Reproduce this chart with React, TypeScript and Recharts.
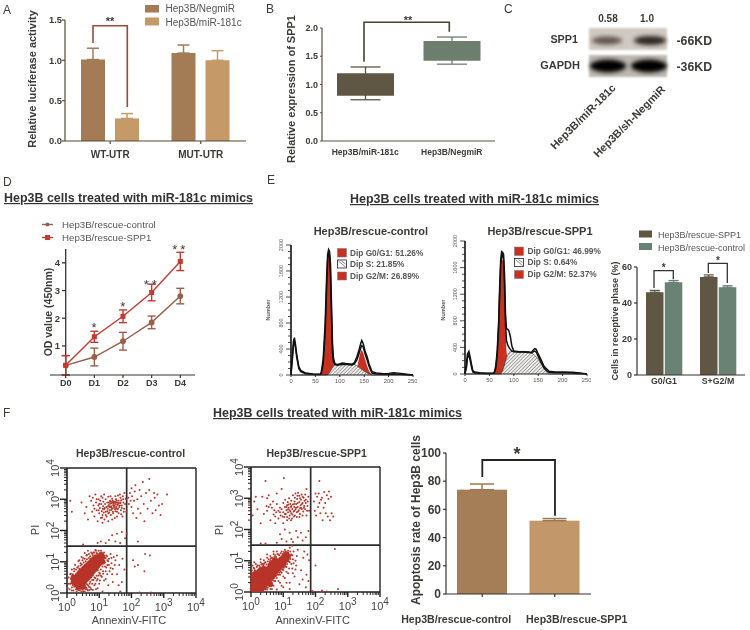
import React from 'react';
import {
  Area, Bar, BarChart, ComposedChart, ErrorBar, Line, LineChart, ReferenceLine,
  Scatter, ScatterChart, XAxis, YAxis,
} from 'recharts';

const FONT = '"Liberation Sans", Arial, sans-serif';
const INK = '#3a3a36';

// A: luciferase
const lucCats = ['WT-UTR', 'MUT-UTR'];
const lucNeg = [1.01, 1.09];
const lucNegErr = [0.14, 0.1];
const lucMir = [0.28, 1.0];
const lucMirErr = [0.06, 0.12];

// B: SPP1 box plot
const boxCats = ['Hep3B/miR-181c', 'Hep3B/NegmiR'];
const boxQ1 = [0.8, 1.42];
const boxQ3 = [1.2, 1.77];
const boxLow = [0.73, 1.36];
const boxHigh = [1.31, 1.84];

// D: OD curves
const days = ['D0', 'D1', 'D2', 'D3', 'D4'];
const odCtrl = [0.3, 0.6, 1.17, 1.85, 2.8];
const odCtrlErr = [0.35, 0.32, 0.32, 0.23, 0.28];
const odSpp1 = [0.3, 1.33, 2.07, 2.93, 4.05];
const odSpp1Err = [0.35, 0.2, 0.23, 0.3, 0.33];

// E: cell cycle histograms
const ch1 = [0, 3, 5, 7, 9, 12, 16, 20, 30, 45, 60, 62, 66, 70, 73, 75, 77, 79, 81, 83, 85, 87, 90, 95, 105, 115, 125, 130, 135, 140, 143, 145, 148, 152, 156, 160, 166, 175, 190, 200, 210, 225, 237, 250];
const raw1 = [30, 320, 520, 574, 480, 300, 130, 70, 30, 15, 12, 40, 250, 800, 1500, 1850, 1930, 1900, 1700, 1100, 500, 260, 175, 160, 185, 175, 165, 190, 280, 400, 490, 530, 480, 360, 280, 170, 50, 30, 20, 25, 35, 25, 12, 0];
const fit1 = [0, 250, 450, 520, 430, 260, 100, 50, 20, 10, 8, 20, 180, 650, 1350, 1750, 1880, 1850, 1500, 900, 350, 200, 160, 150, 165, 160, 155, 170, 230, 340, 420, 450, 430, 320, 230, 130, 30, 15, 10, 10, 15, 10, 5, 0];
const red1 = [0, 0, 0, 0, 0, 0, 0, 0, 0, 0, 0, 0, 200, 700, 1350, 1700, 1850, 1800, 1500, 950, 450, 200, 60, 0, 0, 0, 0, 0, 100, 280, 360, 390, 340, 240, 140, 60, 0, 0, 0, 0, 0, 0, 0, 0];
const hatch1 = [0, 0, 0, 0, 0, 0, 0, 0, 0, 0, 0, 0, 0, 0, 0, 0, 20, 40, 60, 90, 120, 140, 160, 165, 170, 170, 165, 160, 140, 115, 95, 85, 70, 50, 30, 15, 0, 0, 0, 0, 0, 0, 0, 0];

const ch2 = [0, 3, 5, 8, 11, 14, 16, 20, 30, 45, 58, 60, 63, 66, 69, 71, 73, 75, 77, 79, 81, 83, 85, 88, 90, 93, 96, 100, 110, 120, 130, 136, 140, 143, 146, 149, 155, 162, 168, 172, 185, 202, 220, 235, 250];
const raw2 = [10, 150, 300, 340, 240, 120, 50, 30, 20, 12, 10, 25, 120, 350, 800, 1300, 1700, 1840, 1830, 1800, 1500, 900, 680, 670, 650, 560, 420, 345, 335, 335, 330, 325, 360, 380, 370, 320, 230, 115, 70, 40, 30, 30, 25, 15, 0];
const fit2 = [5, 100, 240, 290, 190, 80, 30, 15, 10, 8, 6, 15, 80, 280, 700, 1200, 1600, 1780, 1790, 1720, 1350, 750, 500, 430, 400, 370, 345, 335, 330, 330, 325, 320, 335, 345, 330, 280, 190, 90, 45, 25, 20, 20, 15, 8, 0];
const red2 = [0, 0, 0, 0, 0, 0, 0, 0, 0, 0, 0, 0, 60, 250, 600, 1050, 1500, 1700, 1720, 1650, 1300, 700, 350, 150, 60, 0, 0, 0, 0, 0, 0, 0, 0, 0, 0, 0, 0, 0, 0, 0, 0, 0, 0, 0, 0];
const hatch2 = [0, 0, 0, 0, 0, 0, 0, 0, 0, 0, 0, 0, 0, 0, 0, 0, 0, 20, 50, 90, 140, 190, 240, 290, 320, 340, 340, 340, 340, 340, 335, 320, 300, 280, 260, 230, 170, 80, 25, 0, 0, 0, 0, 0, 0];

const phaseCats = ['G0/G1', 'S+G2/M'];
const phaseSpp1 = [46, 54.5];
const phaseSpp1Err = [1, 1.1];
const phaseCtrl = [51.5, 48.8];
const phaseCtrlErr = [1, 0.8];

// F: apoptosis, positions in log10 decades
const ctrlUpper = [[0.1, 2.95], [0.15, 2.6], [0.45, 2.9], [0.55, 2.55], [0.6, 2.75], [0.65, 2.35], [0.7, 3.1], [0.75, 2.95], [0.78, 2.6], [0.8, 3.05], [0.82, 2.8], [0.85, 2.45], [0.88, 3.15], [0.9, 2.9], [0.92, 2.65], [0.95, 2.3], [0.97, 2.8], [0.98, 3], [1, 2.55], [1.02, 2.72], [1.03, 2.95], [1.05, 2.4], [1.06, 2.85], [1.08, 2.62], [1.1, 3.05], [1.1, 2.5], [1.12, 2.78], [1.13, 2.92], [1.15, 2.68], [1.16, 2.35], [1.18, 2.85], [1.2, 2.6], [1.2, 3], [1.22, 2.75], [1.23, 2.45], [1.25, 2.9], [1.26, 2.7], [1.28, 2.55], [1.28, 3.08], [1.3, 2.82], [1.32, 2.65], [1.33, 2.95], [1.35, 2.75], [1.36, 2.5], [1.38, 2.88], [1.4, 2.7], [1.4, 3.02], [1.42, 2.6], [1.43, 2.82], [1.45, 2.93], [1.46, 2.72], [1.48, 2.4], [1.5, 2.85], [1.5, 2.62], [1.52, 3], [1.53, 2.77], [1.55, 2.9], [1.56, 2.68], [1.58, 2.82], [1.6, 2.95], [1.6, 2.55], [1.62, 2.75], [1.64, 3.15], [1.65, 2.87], [1.67, 2.65], [1.68, 2.97], [1.7, 2.8], [1.72, 2.45], [1.73, 3.1], [1.75, 2.9], [1.77, 2.7], [1.78, 3.2], [1.8, 2.85], [1.82, 3.02], [1.84, 2.6], [1.44, 2.88], [1.34, 2.86], [1.47, 2.8], [1.37, 2.78], [1.56, 2.84], [1.27, 2.78], [1.5, 2.92], [1.41, 2.95], [1.9, 3.05], [1.92, 2.85], [1.95, 3.2], [1.97, 2.95], [2, 3.35], [2, 2.75], [2.02, 3.1], [2.05, 2.55], [2.08, 2.95], [2.1, 3.25], [2.12, 3.45], [2.15, 2.4], [2.18, 3], [2.2, 2.7], [2.25, 3.3], [2.28, 2.55], [2.3, 3.1], [2.35, 3.55], [2.38, 2.85], [2.4, 2.3], [2.45, 3.2], [2.5, 2.7], [2.55, 3.3], [2.55, 3.65], [2.6, 2.95], [2.65, 2.55], [2.7, 3.2], [2.72, 3.05], [2.75, 2.65], [2.8, 3.15], [2.85, 2.8], [2.9, 2.5], [2.95, 2.85], [3.1, 3.15], [0.95, 1.6], [1.05, 1.65], [1.2, 1.6], [1.3, 1.7], [1.4, 1.85], [1.5, 1.65], [1.55, 1.9], [1.65, 1.6], [1.7, 1.95], [1.8, 1.75], [1.85, 1.9], [2.2, 1.65], [0.5, 1.55]];
const ctrlUpperDense = [[1.3, 2.9], [1.36, 2.92], [1.42, 2.9], [1.48, 2.9], [1.54, 2.96], [1.6, 2.88], [1.66, 2.9], [1.32, 2.75], [1.39, 2.72], [1.45, 2.78], [1.52, 2.72], [1.58, 2.7], [1.64, 2.8], [1.7, 2.72], [1.25, 2.62], [1.31, 2.58], [1.37, 2.66], [1.43, 2.55], [1.49, 2.68], [1.55, 2.6], [1.11, 2.7], [1.17, 2.72], [1.14, 2.58], [1.09, 2.42], [1.2, 2.5], [1, 2.85], [1.06, 3.1], [0.92, 3], [0.98, 2.65], [0.85, 2.7], [1.5, 3.1], [1.58, 3.12], [1.66, 3.05], [1.74, 3], [1.35, 3.1], [1.15, 3.15], [1.76, 2.6], [1.68, 2.52], [1.55, 2.45], [1.4, 2.35], [1.28, 2.3], [1.1, 2.25]];
const ctrlCore = [[0.2, 0.35], [0.3, 0.3], [0.3, 0.5], [0.4, 0.25], [0.4, 0.45], [0.4, 0.65], [0.5, 0.35], [0.5, 0.55], [0.5, 0.75], [0.6, 0.45], [0.6, 0.65], [0.6, 0.85], [0.7, 0.55], [0.7, 0.75], [0.7, 0.95], [0.8, 0.7], [0.8, 0.9], [0.8, 1.05], [0.9, 0.8], [0.9, 1], [0.9, 1.15], [1, 0.95], [1, 1.1], [1.05, 1.2], [1.1, 1], [1.1, 1.15], [0.25, 0.42], [0.35, 0.38], [0.35, 0.58], [0.45, 0.3], [0.45, 0.5], [0.45, 0.7], [0.55, 0.4], [0.55, 0.6], [0.55, 0.8], [0.65, 0.5], [0.65, 0.7], [0.65, 0.9], [0.75, 0.62], [0.75, 0.82], [0.75, 1], [0.85, 0.75], [0.85, 0.95], [0.85, 1.1], [0.95, 0.88], [0.95, 1.05], [1.05, 1.05], [0.35, 0.2], [0.5, 0.2], [0.2, 0.5]];
const ctrlLower = [[0.05, 0.5], [0.08, 0.12], [0.1, 0.3], [0.12, 0.45], [0.15, 0.18], [0.18, 0.6], [0.2, 0.08], [0.22, 0.7], [0.25, 0.22], [0.28, 0.75], [0.3, 0.05], [0.33, 0.12], [0.35, 0.85], [0.4, 0.08], [0.42, 0.95], [0.45, 0.15], [0.48, 1.05], [0.5, 0.06], [0.52, 0.2], [0.55, 1.1], [0.58, 0.12], [0.6, 1.2], [0.62, 0.28], [0.65, 0.08], [0.68, 1.25], [0.7, 0.3], [0.72, 0.18], [0.75, 1.3], [0.78, 0.42], [0.8, 0.1], [0.82, 1.3], [0.85, 0.5], [0.88, 0.3], [0.9, 1.35], [0.92, 0.55], [0.95, 0.15], [0.98, 1.35], [1, 0.65], [1.02, 0.4], [1.05, 0.75], [1.08, 1.3], [1.1, 0.05], [1.12, 0.7], [1.15, 1.3], [1.18, 0.85], [1.2, 0.45], [1.22, 1.2], [1.25, 0.9], [1.28, 0.25], [1.3, 1.1], [1.32, 0.7], [1.35, 1.25], [1.38, 0.95], [1.42, 0.35], [1.45, 1.15], [1.5, 1.05], [1.55, 0.6], [1.55, 1.2], [1.6, 0.25], [1.62, 0.9], [1.65, 0.05], [1.7, 0.35], [1.72, 1.1], [1.78, 0.75], [2.2, 0.9], [2.05, 1.05], [2.1, 0.85], [2.42, 1.25], [2.57, 1.2], [2.4, 0.7], [2.25, 0.02], [2.6, 0.02], [0.15, 0.75], [0.25, 0.9], [0.35, 1.02], [0.45, 1.15], [0.55, 1.28], [0.65, 1.35], [0.75, 1.1], [0.85, 1.3], [0.95, 1.25], [1.05, 1.35], [1.15, 1.2], [1.25, 1.05], [1.35, 0.8], [1.25, 0.6], [1.15, 0.4], [1.05, 0.55], [0.95, 0.45], [0.85, 0.25], [0.75, 0.12], [0.65, 0.25], [0.55, 0.05], [0.45, 0.05], [0.35, 0.1], [0.15, 0.08], [0.05, 0.3], [0.02, 0.15], [0.1, 0.6], [0.95, 0.72], [1.1, 0.85], [1.2, 0.7], [1.3, 0.9], [1, 0.3], [0.9, 0.12], [1.4, 0.6], [1.48, 0.9], [0.7, 0.1], [0.6, 0.18]];
const ctrlHalo = [[0.12, 0.62], [0.18, 0.48], [0.22, 0.2], [0.28, 0.6], [0.32, 0.82], [0.38, 0.78], [0.42, 0.88], [0.46, 0.92], [0.52, 0.98], [0.58, 1.02], [0.62, 1.08], [0.68, 1.12], [0.72, 1.18], [0.8, 1.22], [0.92, 1.28], [1.02, 1.28], [1.12, 1.25], [1.2, 1.12], [1.18, 0.98], [1.24, 1.18], [1.28, 1.02], [1.22, 0.82], [1.12, 0.62], [1.08, 0.52], [1.02, 0.62], [0.98, 0.56], [0.92, 0.4], [0.88, 0.48], [0.82, 0.42], [0.78, 0.3], [0.72, 0.36], [0.68, 0.2], [0.62, 0.12], [0.58, 0.3], [0.54, 0.24], [0.48, 0.12], [0.42, 0.14], [0.38, 0.16], [0.28, 0.12], [0.18, 0.25], [0.22, 0.78], [0.38, 1.05], [0.5, 1.12], [0.62, 1.22], [0.78, 1.26], [0.88, 1.38], [1.38, 1.12], [1.42, 0.78]];
const spp1Upper = [[0, 2.6], [0, 2.75], [0, 2.85], [0.05, 2.45], [0.1, 2.9], [0.15, 3.05], [0.2, 2.65], [0.3, 2.2], [0.35, 3.05], [0.4, 2.5], [0.45, 3.55], [0.5, 3], [0.5, 2.6], [0.55, 2.72], [0.55, 3.1], [0.6, 2.3], [0.65, 2.7], [0.7, 2.48], [0.75, 2.2], [0.78, 2.55], [0.8, 3.15], [0.8, 2.82], [0.85, 2.6], [0.85, 2.35], [0.9, 2.7], [0.92, 2.45], [0.95, 3.3], [0.95, 2.65], [1, 2.2], [1, 2.55], [1.02, 3.65], [1, 2.85], [1.03, 2.4], [1.05, 2.72], [1.06, 2.95], [1.08, 2.5], [1.1, 2.62], [1.12, 2.78], [1.12, 2.3], [1.14, 2.88], [1.15, 2.55], [1.17, 2.7], [1.18, 3], [1.2, 2.45], [1.2, 2.62], [1.22, 2.82], [1.24, 2.72], [1.25, 2.52], [1.25, 2.92], [1.27, 2.35], [1.28, 2.66], [1.3, 2.8], [1.3, 3.1], [1.32, 2.58], [1.34, 2.72], [1.35, 2.9], [1.36, 2.45], [1.38, 3.15], [1.38, 2.65], [1.4, 2.82], [1.42, 2.55], [1.43, 2.98], [1.45, 2.72], [1.46, 3.18], [1.48, 2.62], [1.5, 2.88], [1.5, 3.08], [1.52, 2.5], [1.54, 2.78], [1.55, 2.95], [1.57, 3.12], [1.58, 2.66], [1.6, 2.85], [1.62, 2.58], [1.63, 3.02], [1.65, 2.75], [1.66, 2.92], [1.68, 2.65], [1.7, 2.85], [1.72, 3.3], [1.72, 2.45], [1.75, 2.75], [1.78, 3.05], [1.8, 2.6], [1.15, 2.65], [1.25, 2.75], [1.35, 2.6], [1.45, 2.85], [1.55, 2.7], [1.95, 2.9], [1.98, 2.6], [2, 3.15], [2.02, 2.45], [2.05, 3.05], [2.08, 2.72], [2.1, 3.15], [2.12, 3.55], [2.12, 2.85], [2.15, 2.52], [2.17, 2.95], [2.2, 3.02], [2.22, 2.3], [2.25, 2.7], [2.27, 3.2], [2.3, 2.85], [2.32, 2.52], [2.35, 3.1], [2.38, 2.42], [2.4, 2.98], [2.42, 3.22], [2.45, 2.3], [2.48, 3.05], [2.5, 2.52], [2.55, 2.42], [0.8, 1.58], [0.9, 1.85], [0.95, 1.7], [1.05, 2], [1.1, 1.62], [1.2, 1.9], [1.25, 1.7], [1.3, 1.6], [1.4, 1.95], [1.45, 1.75], [1.55, 1.9], [1.6, 1.65], [1.7, 1.75], [1.78, 1.95], [0.3, 1.55], [0.45, 1.55]];
const spp1UpperDense = [[1.1, 2.72], [1.16, 2.8], [1.22, 2.58], [1.28, 2.48], [1.34, 2.82], [1.4, 2.7], [1.46, 2.58], [1.52, 2.68], [1.58, 2.82], [1.64, 2.7], [1.7, 2.95], [1.05, 2.5], [0.98, 2.42], [0.9, 2.55], [1.12, 2.4], [1.18, 2.35], [1.24, 2.3], [1.33, 2.42], [1.42, 2.4], [1.5, 2.4], [1.6, 2.45], [1.36, 3.02], [1.44, 3.08], [1.52, 3], [1.6, 3.05], [1.68, 3.12], [1.74, 2.6], [1.76, 2.9], [0.72, 2.62], [0.6, 2.8], [0.48, 2.75], [0.68, 2.9], [0.75, 2.42]];
const spp1Core = [[0.1, 0.15], [0.1, 0.35], [0.1, 0.55], [0.2, 0.1], [0.2, 0.3], [0.2, 0.5], [0.3, 0.1], [0.3, 0.3], [0.3, 0.5], [0.3, 0.7], [0.4, 0.15], [0.4, 0.35], [0.4, 0.55], [0.4, 0.75], [0.5, 0.3], [0.5, 0.5], [0.5, 0.7], [0.6, 0.25], [0.6, 0.45], [0.6, 0.65], [0.6, 0.85], [0.7, 0.55], [0.7, 0.75], [0.7, 0.95], [0.8, 0.7], [0.8, 0.9], [0.9, 0.8], [0.9, 1], [1, 0.9], [1, 1.1], [1.1, 1.05], [1.15, 1.15], [0.05, 0.1], [0.05, 0.3], [0.05, 0.5], [0.15, 0.2], [0.15, 0.4], [0.15, 0.6], [0.25, 0.2], [0.25, 0.4], [0.25, 0.6], [0.35, 0.2], [0.35, 0.4], [0.35, 0.6], [0.45, 0.25], [0.45, 0.45], [0.45, 0.65], [0.55, 0.35], [0.55, 0.55], [0.55, 0.75], [0.65, 0.5], [0.65, 0.7], [0.65, 0.9], [0.75, 0.65], [0.75, 0.85], [0.75, 1.02], [0.85, 0.75], [0.85, 0.95], [0.95, 0.85], [0.95, 1.05], [1.05, 1], [1.05, 1.15], [1.1, 1.2]];
const spp1Lower = [[0, 0.1], [0, 0.3], [0, 0.55], [0.03, 0.7], [0.05, 0.85], [0.1, 0.75], [0.15, 0.9], [0.2, 0.7], [0.25, 0.85], [0.3, 0.95], [0.35, 0.9], [0.4, 1.02], [0.45, 0.95], [0.5, 1.1], [0.55, 1.05], [0.6, 1.15], [0.65, 1.1], [0.7, 1.22], [0.75, 1.18], [0.8, 1.3], [0.5, 0.08], [0.6, 0.1], [0.7, 0.2], [0.75, 0.35], [0.8, 0.08], [0.8, 0.45], [0.85, 0.55], [0.9, 0.3], [0.95, 0.62], [1, 0.15], [1, 0.7], [1.05, 0.45], [1.1, 0.8], [1.15, 0.6], [1.2, 0.95], [1.2, 0.3], [1.25, 1.2], [1.28, 0.75], [1.3, 1.05], [1.32, 1.3], [1.35, 0.5], [1.4, 0.85], [1.42, 1.15], [1.45, 1.35], [1.5, 0.25], [1.55, 0.7], [1.6, 0.4], [1.62, 1.1], [1.65, 1.3], [1.7, 0.15], [1.72, 0.55], [1.75, 1.2], [1.78, 0.35], [1.8, 1.02], [1.2, 1.42], [1.28, 1.48], [2, 0.85], [2.6, 1.38], [2.7, 0.1], [2.2, 0.05], [2.35, 0.02], [1.9, 0.03], [0.1, 0.95], [0.2, 0.85], [0.3, 1.05], [0.4, 0.9], [0.5, 1.2], [0.6, 1.02], [0.7, 1.3], [0.85, 1.2], [0.95, 1.3], [1.05, 1.35], [1.15, 1.32], [1.22, 1.3], [0.9, 0.55], [1, 0.5], [1.1, 0.65], [1.18, 0.75], [1.25, 0.9], [1.3, 0.6], [1.38, 1], [0.85, 0.35], [0.95, 0.2], [1.1, 0.3], [1.2, 0.1], [0.65, 0.1], [0.72, 0.35]];
const spp1Halo = [[0.02, 0.62], [0.08, 0.78], [0.12, 0.7], [0.18, 0.8], [0.22, 0.68], [0.28, 0.8], [0.32, 0.88], [0.38, 0.84], [0.42, 0.94], [0.48, 0.88], [0.52, 0.98], [0.58, 0.96], [0.62, 1.08], [0.68, 1.06], [0.72, 1.12], [0.78, 1.12], [0.82, 1.22], [0.88, 1.18], [0.92, 1.24], [0.98, 1.22], [1.02, 1.28], [1.08, 1.3], [1.15, 1.26], [1.2, 1.18], [1.22, 1.06], [1.18, 0.98], [1.12, 0.9], [1.08, 0.82], [1.02, 0.78], [0.98, 0.72], [0.92, 0.66], [0.88, 0.62], [0.82, 0.56], [0.78, 0.52], [0.72, 0.45], [0.68, 0.38], [0.62, 0.32], [0.58, 0.2], [0.52, 0.14], [0.45, 0.08], [0.38, 0.06], [0.28, 0.04], [0.18, 0.03], [0.08, 0.02], [1.32, 0.92], [1.38, 0.72], [1.28, 1.18]];

const logTicks = [0, 0.3, 0.48, 0.6, 0.7, 0.78, 0.85, 0.9, 0.95, 1, 1.3, 1.48, 1.6, 1.7, 1.78, 1.85, 1.9, 1.95, 2, 2.3, 2.48, 2.6, 2.7, 2.78, 2.85, 2.9, 2.95, 3, 3.3, 3.48, 3.6, 3.7, 3.78, 3.85, 3.9, 3.95, 4];

// F: rate bars
const rateCats = ['Hep3B/rescue-control', 'Hep3B/rescue-SPP1'];
const rateVals = [74, 52];
const rateErr = [4, 1.5];

const rows = (keys: Record<string, any[]>) => {
  const names = Object.keys(keys);
  return keys[names[0]].map((_, i) => Object.fromEntries(names.map((n) => [n, keys[n][i]])));
};
const upErr = (e: number[]) => e.map((v) => [0, v]);
const pts = (list: number[][]) => list.map(([x, y]) => ({ x, y }));

const lucRows = rows({ cat: lucCats, neg: lucNeg, negErr: upErr(lucNegErr), mir: lucMir, mirErr: upErr(lucMirErr) });
const boxRows = boxCats.map((cat, i) => ({
  cat,
  [`box${i}`]: [boxQ1[i], boxQ3[i]],
  [`whisker${i}`]: [boxQ3[i] - boxLow[i], boxHigh[i] - boxQ3[i]],
}));
const odRows = rows({ day: days, ctrl: odCtrl, ctrlErr: odCtrlErr, spp1: odSpp1, spp1Err: odSpp1Err });
const phaseRows = rows({ cat: phaseCats, spp1: phaseSpp1, spp1Err: upErr(phaseSpp1Err), ctrl: phaseCtrl, ctrlErr: upErr(phaseCtrlErr) });
const rateRows = rows({ cat: rateCats, val: rateVals, err: upErr(rateErr) });
const hist1 = rows({ ch: ch1, raw: raw1, fit: fit1, red: red1, hatch: hatch1 });
const hist2 = rows({ ch: ch2, raw: raw2, fit: fit2, red: red2, hatch: hatch2 });

const Place = ({ left, top, children }: any) => (
  <div style={{ position: 'absolute', left, top }}>{children}</div>
);

const boldTick = (fontSize: number) => ({ fontSize, fontWeight: 700, fill: INK, fontFamily: FONT });

// y axis of panel D sits on D0, so ticks are pushed right from the plot edge
const OdTick = ({ x, y, payload }: any) => (
  <g>
    <line x1={x + 20} x2={x + 23.7} y1={y} y2={y} stroke="#333" strokeWidth={1.3} />
    <text x={x + 18} y={y + 3.5} textAnchor="end" fontSize={9.5} fontWeight={700} fill={INK} fontFamily={FONT}>{payload.value}</text>
  </g>
);

const SquareDot = ({ cx, cy }: any) => <rect x={cx - 2.5} y={cy - 2.5} width={5} height={5} fill="#c8382e" />;

// labels under the rate bars are not centred on them in the source
const RateTick = ({ x, y, payload, index }: any) => (
  <text x={x + (index === 0 ? -26 : 22)} y={y + 24} textAnchor="middle" fontSize={10.6} fontWeight={700} fill={INK} fontFamily={FONT}>{payload.value}</text>
);

function HistChart({ data, height }: { data: any[]; height: number }) {
  const YTick = ({ x, y, payload }: any) => {
    const major = payload.value % 400 === 0;
    return (
      <g>
        <line x1={x + (major ? 3 : 5)} x2={x + 8} y1={y} y2={y} stroke="#222" strokeWidth={0.8} />
        {major && <text transform={`translate(${x},${y}) rotate(-90)`} textAnchor="middle" fontSize={5.5} fill="#555" fontFamily={FONT}>{payload.value}</text>}
      </g>
    );
  };
  return (
    <ComposedChart width={158} height={height + 22} data={data} margin={{ top: 6, right: 4, bottom: 0, left: 0 }}>
      <defs>
        <pattern id={`hatch${height}`} width={2.5} height={2.5} patternUnits="userSpaceOnUse" patternTransform="rotate(45)">
          <rect width={2.5} height={2.5} fill="#f2f0ee" />
          <line x1={0} y1={0} x2={0} y2={2.5} stroke="#444" strokeWidth={0.9} />
        </pattern>
      </defs>
      <XAxis dataKey="ch" type="number" domain={[0, 250]} ticks={[0, 50, 100, 150, 200, 250]} height={16}
        tick={{ fontSize: 5.8, fill: '#555', fontFamily: FONT }} tickSize={2} stroke="#222" />
      <YAxis type="number" domain={[0, 2000]} width={32} interval={0} axisLine={{ stroke: '#111', strokeWidth: 1.6 }} tickLine={false}
        ticks={[0, 100, 200, 300, 400, 500, 600, 700, 800, 900, 1000, 1100, 1200, 1300, 1400, 1500, 1600, 1700, 1800, 1900, 2000]} tick={YTick} />
      <Area dataKey="red" type="linear" fill="#c8301f" fillOpacity={1} stroke="none" isAnimationActive={false} dot={false} activeDot={false} />
      <Area dataKey="hatch" type="linear" fill={`url(#hatch${height})`} fillOpacity={1} stroke="#333" strokeWidth={0.6} isAnimationActive={false} dot={false} activeDot={false} />
      <Line dataKey="raw" type="linear" stroke="#111" strokeWidth={1.5} dot={false} activeDot={false} isAnimationActive={false} />
      <Line dataKey="fit" type="linear" stroke="#111" strokeWidth={1.5} dot={false} activeDot={false} isAnimationActive={false} />
    </ComposedChart>
  );
}

const Pow = ({ x, y, exp, rotate }: any) => (
  <text transform={rotate ? `translate(${x},${y}) rotate(-90)` : undefined} x={rotate ? 0 : x} y={rotate ? 0 : y}
    textAnchor="middle" fontSize={11} fill="#444" fontFamily={FONT}>
    10<tspan dy={-5} fontSize={10}>{exp}</tspan>
  </text>
);

const LogX = ({ x, y, payload }: any) => {
  const major = Number.isInteger(payload.value);
  return (
    <g>
      <line x1={x} x2={x} y1={y - 8} y2={y + (major ? -3 : -5)} stroke="#222" strokeWidth={major ? 1.4 : 1} />
      {major && <Pow x={x} y={y + 10} exp={payload.value} />}
    </g>
  );
};
const LogY = ({ x, y, payload }: any) => {
  const major = Number.isInteger(payload.value);
  return (
    <g>
      <line x1={x + (major ? 1 : 5)} x2={x + 8} y1={y} y2={y} stroke="#222" strokeWidth={major ? 1.4 : 1} />
      {major && <Pow x={x} y={y} exp={payload.value} rotate />}
    </g>
  );
};

const reddish = (r: number) => ({ cx, cy }: any) => <circle cx={cx} cy={cy} r={r} fill="#b83428" />;

function Dot({ sparse, lower, core }: { sparse: number[][]; lower: number[][]; core: number[][] }) {
  return (
    <ScatterChart width={182} height={167} margin={{ top: 17, right: 21, bottom: 0, left: 0 }}>
      <XAxis dataKey="x" type="number" domain={[0, 4]} ticks={logTicks} interval={0} height={25} tick={LogX} tickLine={false} axisLine={{ stroke: '#222', strokeWidth: 1.6 }} />
      <YAxis dataKey="y" type="number" domain={[0, 4]} ticks={logTicks} interval={0} width={32} tick={LogY} tickLine={false} axisLine={{ stroke: '#222', strokeWidth: 1.6 }} />
      <ReferenceLine x={4} stroke="#222" strokeWidth={1.4} />
      <ReferenceLine y={4} stroke="#222" strokeWidth={1.4} />
      <Scatter data={pts(core)} shape={reddish(2.9)} isAnimationActive={false} />
      <Scatter data={pts(lower)} shape={reddish(1)} isAnimationActive={false} />
      <Scatter data={pts(sparse)} shape={reddish(1)} isAnimationActive={false} />
      <ReferenceLine x={1.85} stroke="#2b2b2b" strokeWidth={1.7} />
      <ReferenceLine y={1.5} stroke="#2b2b2b" strokeWidth={1.7} />
    </ScatterChart>
  );
}

const T = ({ x, y, s, size = 10, bold = false, anchor = 'start', fill = INK, rot, ...rest }: any) => (
  <text x={rot !== undefined ? 0 : x} y={rot !== undefined ? 0 : y} transform={rot !== undefined ? `translate(${x},${y}) rotate(${rot})` : undefined}
    fontSize={size} fontWeight={bold ? 700 : 400} textAnchor={anchor} fill={fill} fontFamily={FONT} {...rest}>{s}</text>
);

function Overlay() {
  const title = (x: number, y: number) => (
    <T x={x} y={y} s="Hep3B cells treated with miR-181c mimics" size={12} bold textDecoration="underline" fill="#333" textLength={249} lengthAdjust="spacingAndGlyphs" />
  );
  const bracket = (d: string, stroke: string, w = 1.5) => <path d={d} fill="none" stroke={stroke} strokeWidth={w} />;
  return (
    <svg width={750} height={630} style={{ position: 'absolute', left: 0, top: 0, pointerEvents: 'none' }}>
      <defs>
        <filter id="soft" x="-30%" y="-60%" width="160%" height="220%"><feGaussianBlur stdDeviation="2.2" /></filter>
        <filter id="softer"><feGaussianBlur stdDeviation="1.2" /></filter>
      </defs>

      {/* panel letters */}
      <T x={3} y={14} s="A" size={12} />
      <T x={266} y={13} s="B" size={12} />
      <T x={504} y={13} s="C" size={12} />
      <T x={3} y={186} s="D" size={12} />
      <T x={267} y={184} s="E" size={12} />
      <T x={3} y={417} s="F" size={12} />

      {/* A */}
      <rect x={145} y={5} width={14} height={7.5} fill="#a37c55" />
      <rect x={145} y={17.5} width={14} height={8} fill="#c59a68" />
      <T x={165.5} y={12} s="Hep3B/NegmiR" size={10} fill="#555" />
      <T x={165.5} y={25.5} s="Hep3B/miR-181c" size={10} fill="#555" />
      <T x={36} y={79} rot={-90} s="Relative luciferase activity" size={11} bold anchor="middle" />
      {bracket('M93 43V25.7H127.3V107', '#a0473a', 1.6)}
      <T x={110} y={25} s="**" size={11} bold anchor="middle" />

      {/* B */}
      <T x={295} y={89} rot={-90} s="Relative expression of SPP1" size={11} bold anchor="middle" />
      {bracket('M364 61.7V22.3H449.3V31.7', '#4a4030', 1.6)}
      <T x={408} y={24} s="**" size={11} bold anchor="middle" />

      {/* C */}
      <rect x={589} y={28} width={78} height={22} fill="#cfc9c2" filter="url(#softer)" />
      <rect x={589} y={55} width={78} height={22} fill="#bdb7b0" filter="url(#softer)" />
      <ellipse cx={607} cy={40.5} rx={15} ry={4} fill="#5f554c" filter="url(#soft)" />
      <ellipse cx={650} cy={40.5} rx={16} ry={4.5} fill="#2e2620" filter="url(#soft)" />
      <ellipse cx={608} cy={66} rx={18} ry={6.5} fill="#060504" filter="url(#soft)" />
      <ellipse cx={649} cy={66} rx={18} ry={6.5} fill="#060504" filter="url(#soft)" />
      <T x={608} y={22} s="0.58" size={10} bold anchor="middle" />
      <T x={647} y={22} s="1.0" size={10} bold anchor="middle" />
      <T x={578} y={43} s="SPP1" size={10.8} bold anchor="end" />
      <T x={580} y={69} s="GAPDH" size={11} bold anchor="end" />
      <T x={676.5} y={44.5} s="-66KD" size={12.3} bold />
      <T x={676.5} y={70.5} s="-36KD" size={12.3} bold />
      <T x={555} y={150} rot={-45} s="Hep3B/miR-181c" size={11} bold />
      <T x={598} y={158} rot={-45} s="Hep3B/sh-NegmiR" size={11} bold />

      {/* D */}
      {title(4, 202)}
      <line x1={42} x2={53} y1={224.5} y2={224.5} stroke="#9a5e4a" strokeWidth={1.4} />
      <circle cx={47.5} cy={224.5} r={2} fill="#9a5e4a" />
      <line x1={42} x2={53} y1={237.5} y2={237.5} stroke="#c8382e" strokeWidth={1.4} />
      <rect x={45} y={235} width={5} height={5} fill="#c8382e" />
      <T x={62} y={228} s="Hep3B/rescue-control" size={9.7} fill="#555" />
      <T x={62} y={241} s="Hep3B/rescue-SPP1" size={9.7} fill="#555" />
      <T x={52} y={312} rot={-90} s="OD value (450nm)" size={10.5} bold anchor="middle" />
      <T x={94} y={332} s="*" size={13} anchor="middle" />
      <T x={122.7} y={311} s="*" size={13} anchor="middle" />
      <T x={151.7} y={289} s="**" size={13} anchor="middle" letterSpacing={3} />
      <T x={180.3} y={254} s="**" size={13} anchor="middle" letterSpacing={3} />

      {/* E */}
      {title(350, 203)}
      <T x={370.8} y={235} s="Hep3B/rescue-control" size={11} bold anchor="middle" />
      <T x={540} y={235} s="Hep3B/rescue-SPP1" size={11} bold anchor="middle" />
      <T x={270} y={310} rot={-90} s="Number" size={5.5} bold anchor="middle" fill="#555" />
      <T x={445} y={310} rot={-90} s="Number" size={5.5} bold anchor="middle" fill="#555" />
      {[
        [337.5, 350, ['Dip G0/G1: 51.26%', 'Dip S: 21.85%', 'Dip G2/M: 26.89%'], 0],
        [514.5, 527.5, ['Dip G0/G1: 46.99%', 'Dip S: 0.64%', 'Dip G2/M: 52.37%'], -1.5],
      ].map(([sx, tx, labels, dy]: any) => (
        <g key={sx}>
          <rect x={sx} y={248.5 + dy} width={9} height={8.5} fill="#c8301f" stroke="#777" strokeWidth={0.5} />
          <rect x={sx} y={260 + dy} width={9} height={8} fill="#fff" stroke="#222" strokeWidth={0.8} />
          <path d={`M${sx + 1} ${261 + dy}L${sx + 8} ${267 + dy}M${sx + 4} ${261 + dy}L${sx + 8} ${264 + dy}`} stroke="#333" strokeWidth={0.6} />
          <rect x={sx} y={272 + dy} width={9} height={8} fill="#c8301f" stroke="#777" strokeWidth={0.5} />
          {labels.map((s: string, i: number) => (
            <T key={s} x={tx} y={[255.5, 266.5, 278.5][i] + dy} s={s} size={8.3} bold fill="#555" />
          ))}
        </g>
      ))}
      <rect x={639} y={230.5} width={13} height={7} fill="#5f5644" />
      <rect x={639} y={243} width={13} height={7} fill="#6a8274" />
      <T x={658} y={238} s="Hep3B/rescue-SPP1" size={9} fill="#555" />
      <T x={658} y={250.5} s="Hep3B/rescue-control" size={9} fill="#555" />
      <T x={618} y={321} rot={-90} s="Cells in receptive phase (%)" size={9} bold anchor="middle" />
      {bracket('M654 288V270.7H673.3V279.3', '#333', 1.3)}
      {bracket('M708.3 273V263.3H727.3V283', '#333', 1.3)}
      <T x={663.7} y={271} s="*" size={10} bold anchor="middle" />
      <T x={718} y={264} s="*" size={10} bold anchor="middle" />

      {/* F */}
      {title(213, 417)}
      <T x={130.5} y={456.5} s="Hep3B/rescue-control" size={10.5} bold anchor="middle" />
      <T x={316.7} y={456.5} s="Hep3B/rescue-SPP1" size={10.5} bold anchor="middle" />
      <T x={129} y={624} s="AnnexinV-FITC" size={11} anchor="middle" fill="#444" />
      <T x={312.7} y={624} s="AnnexinV-FITC" size={11} anchor="middle" fill="#444" />
      <T x={39} y={530} rot={-90} s="PI" size={11} anchor="middle" fill="#444" />
      <T x={223} y={530} rot={-90} s="PI" size={11} anchor="middle" fill="#444" />
      <T x={420} y={520} rot={-90} s="Apoptosis rate of Hep3B cells" size={12} bold anchor="middle" />
      {bracket('M482.3 477V460H555V515.7', '#222', 1.8)}
      <T x={517} y={460} s="*" size={18} bold anchor="middle" />
    </svg>
  );
}

export default function App() {
  return (
    <div style={{ position: 'absolute', left: 0, top: 0, width: 750, height: 630, background: '#fff', overflow: 'hidden', fontFamily: FONT, filter: 'blur(0.35px)' }}>
      {/* A */}
      <Place left={35} top={10}>
        <BarChart width={212} height={152} data={lucRows} barSize={24} barGap={10} margin={{ top: 10, right: 1, bottom: 0, left: 0 }}>
          <XAxis dataKey="cat" height={21} tick={boldTick(10)} tickSize={3} tickMargin={7} stroke="#5a4a30" strokeWidth={1.2} />
          <YAxis type="number" domain={[0, 1.5]} ticks={[0, 0.5, 1, 1.5]} tickFormatter={(v: number) => v.toFixed(1)} width={30} tick={boldTick(9.3)} tickSize={3} tickMargin={0} stroke="#5a4a30" strokeWidth={1.2} />
          <Bar dataKey="neg" fill="#a37c55" isAnimationActive={false}>
            <ErrorBar dataKey="negErr" width={6} stroke="#a37c55" strokeWidth={1.5} />
          </Bar>
          <Bar dataKey="mir" fill="#c59a68" isAnimationActive={false}>
            <ErrorBar dataKey="mirErr" width={6} stroke="#c59a68" strokeWidth={1.5} />
          </Bar>
        </BarChart>
      </Place>

      {/* B */}
      <Place left={292} top={18}>
        <BarChart width={204} height={144} data={boxRows} barSize={57} barGap={-57} margin={{ top: 10, right: 1, bottom: 0, left: 0 }}>
          <XAxis dataKey="cat" height={21} tick={boldTick(8.5)} tickSize={0} tickMargin={8} stroke="#5a5040" strokeWidth={1.2} />
          <YAxis type="number" domain={[0, 2]} ticks={[0, 0.5, 1, 1.5, 2]} tickFormatter={(v: number) => v.toFixed(1)} width={30} tick={boldTick(9)} tickSize={2} stroke="#5a5040" strokeWidth={1.2} />
          <Bar dataKey="box0" fill="#5f5644" isAnimationActive={false}>
            <ErrorBar dataKey="whisker0" width={15} stroke="#5f5644" strokeWidth={1.3} />
          </Bar>
          <Bar dataKey="box1" fill="#6e7e6e" isAnimationActive={false}>
            <ErrorBar dataKey="whisker1" width={15} stroke="#6e7e6e" strokeWidth={1.3} />
          </Bar>
        </BarChart>
      </Place>

      {/* D */}
      <Place left={20} top={239}>
        <LineChart width={176} height={152} data={odRows} margin={{ top: 10, right: 1, bottom: 0, left: 0 }}>
          <XAxis dataKey="day" scale="point" padding={{ left: 15.7, right: 14.7 }} height={16} tick={boldTick(9)} tickSize={3} stroke="#333" strokeWidth={1.2} />
          <YAxis type="number" domain={[0, 4.5]} ticks={[1, 2, 3, 4]} width={30} axisLine={false} tickLine={false} tick={OdTick} />
          <ReferenceLine x="D0" stroke="#333" strokeWidth={1.3} />
          <Line dataKey="ctrl" stroke="#9a5e4a" strokeWidth={1.4} dot={{ r: 2.2, fill: '#9a5e4a', stroke: '#9a5e4a' }} isAnimationActive={false}>
            <ErrorBar dataKey="ctrlErr" width={4} stroke="#9a5e4a" strokeWidth={1.4} />
          </Line>
          <Line dataKey="spp1" stroke="#c8382e" strokeWidth={1.4} dot={SquareDot} isAnimationActive={false}>
            <ErrorBar dataKey="spp1Err" width={4} stroke="#c8382e" strokeWidth={1.4} />
          </Line>
        </LineChart>
      </Place>

      {/* E histograms */}
      <Place left={259} top={239}>
        <HistChart data={hist1} height={130} />
      </Place>
      <Place left={433} top={235}>
        <HistChart data={hist2} height={133} />
      </Place>

      {/* E phases */}
      <Place left={607} top={257}>
        <BarChart width={139} height={134} data={phaseRows} barSize={17.5} barGap={1.3} margin={{ top: 10, right: 1, bottom: 0, left: 0 }}>
          <XAxis dataKey="cat" height={16} tick={boldTick(8.8)} tickSize={0} tickMargin={3} stroke="#333" strokeWidth={1.2} />
          <YAxis type="number" domain={[0, 60]} ticks={[0, 20, 40, 60]} width={30} tick={boldTick(9)} tickSize={3} stroke="#333" strokeWidth={1.2} />
          <Bar dataKey="spp1" fill="#5f5644" isAnimationActive={false}>
            <ErrorBar dataKey="spp1Err" width={5} stroke="#5f5644" strokeWidth={1.2} />
          </Bar>
          <Bar dataKey="ctrl" fill="#6a8274" isAnimationActive={false}>
            <ErrorBar dataKey="ctrlErr" width={5} stroke="#6a8274" strokeWidth={1.2} />
          </Bar>
        </BarChart>
      </Place>

      {/* F dot plots */}
      <Place left={34.5} top={451}>
        <Dot sparse={[...ctrlUpper, ...ctrlUpperDense]} lower={[...ctrlLower, ...ctrlHalo]} core={ctrlCore} />
      </Place>
      <Place left={218.5} top={450}>
        <Dot sparse={[...spp1Upper, ...spp1UpperDense]} lower={[...spp1Lower, ...spp1Halo]} core={spp1Core} />
      </Place>

      {/* F rate */}
      <Place left={396} top={443}>
        <BarChart width={235} height={187} data={rateRows} barSize={50} margin={{ top: 10, right: 40, bottom: 0, left: 0 }}>
          <XAxis dataKey="cat" height={36} tick={RateTick} tickSize={3} interval={0} stroke="#333" strokeWidth={1.2} />
          <YAxis type="number" domain={[0, 100]} ticks={[0, 20, 40, 60, 80, 100]} width={50} tick={boldTick(12)} tickSize={3} stroke="#333" strokeWidth={1.2} />
          <Bar dataKey="val" isAnimationActive={false} fill="#a57d56" shape={(p: any) => <rect x={p.x} y={p.y} width={p.width} height={p.height} fill={p.index === 0 ? '#a57d56' : '#c2976a'} />}>
            <ErrorBar dataKey="err" width={12} stroke="#9c7850" strokeWidth={1.5} />
          </Bar>
        </BarChart>
      </Place>

      <Overlay />
    </div>
  );
}
